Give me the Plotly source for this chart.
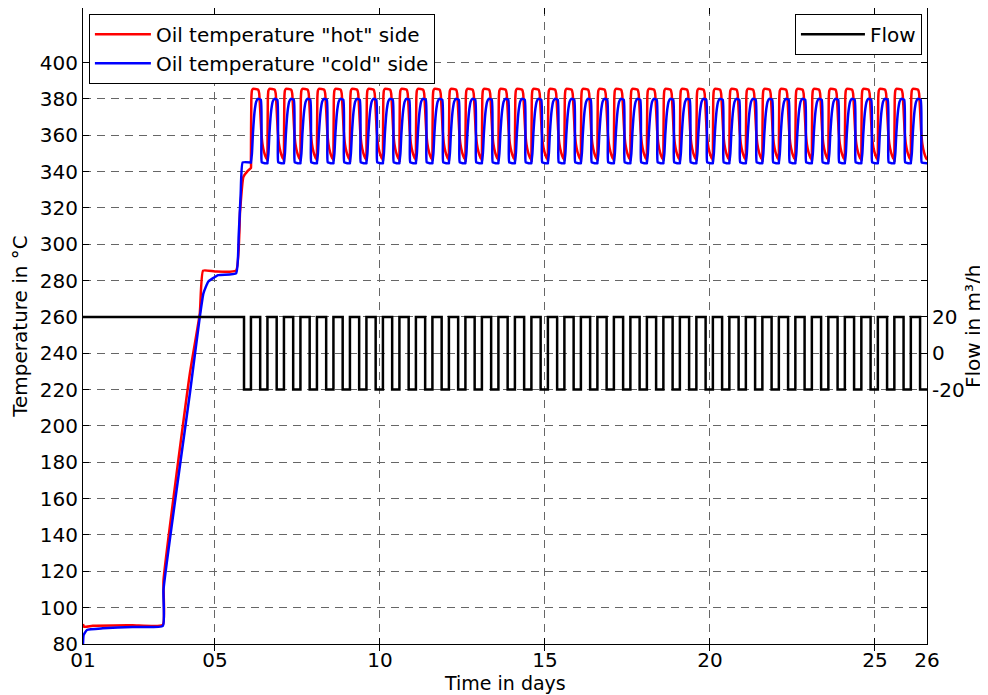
import plotly.graph_objects as go

# ---------------- axis ticks ----------------
x_tickvals = [1, 5, 10, 15, 20, 25, 26.58]
x_ticktext = ["01", "05", "10", "15", "20", "25", "26"]
temp_tickvals = [80, 100, 120, 140, 160, 180, 200, 220, 240, 260, 280, 300,
                 320, 340, 360, 380, 400]
flow_tickvals = [-20, 0, 20]
flow_ticktext = ["-20", "0", "20"]

# ---------------- heating-up phase ----------------
hot_start_days = [1.0, 1.03, 1.3, 2.5, 3.42, 3.44, 4.24, 4.54, 4.64, 5.0,
                  5.64, 5.76, 5.86, 6.0, 6.09]
hot_start_vals = [91.0, 89.5, 90.0, 90.3, 90.5, 115.0, 229.0, 262.0, 285.5,
                  285.0, 285.5, 318.0, 337.0, 340.5, 342.0]

cold_start_days = [1.0, 1.02, 1.12, 1.6, 2.5, 3.42, 3.44, 4.24, 4.54, 4.65,
                   4.8, 5.1, 5.64, 5.72, 5.78, 5.84, 6.09]
cold_start_vals = [80.0, 85.0, 87.7, 88.6, 89.4, 90.0, 110.0, 218.0, 260.0,
                   273.0, 279.5, 283.0, 284.0, 305.0, 328.0, 345.0, 345.0]

flow_start_days = [1.0, 5.88]
flow_start_vals = [20, -20]

# ---------------- cyclic operation (one 12 h cycle) ----
cycle_starts = [6.09, 6.59, 7.09, 7.59, 8.09, 8.59, 9.09, 9.59, 10.09, 10.59,
                11.09, 11.59, 12.09, 12.59, 13.09, 13.59, 14.09, 14.59, 15.09,
                15.59, 16.09, 16.59, 17.09, 17.59, 18.09, 18.59, 19.09, 19.59,
                20.09, 20.59, 21.09, 21.59, 22.09, 22.59, 23.09, 23.59, 24.09,
                24.59, 25.09, 25.59, 26.09]

hot_cycle_phase = [0.0, 0.012, 0.03, 0.06, 0.22, 0.25, 0.28, 0.31, 0.35,
                   0.40, 0.46, 0.499]
hot_cycle_vals = [346.0, 380.0, 384.5, 385.5, 385.0, 383.0, 374.0, 363.0,
                  355.0, 350.5, 347.5, 346.5]

cold_cycle_phase = [0.0, 0.03, 0.06, 0.09, 0.12, 0.16, 0.21, 0.30, 0.315,
                    0.33, 0.499]
cold_cycle_vals = [345.0, 350.0, 361.0, 369.0, 374.5, 378.5, 380.0, 379.5,
                   350.0, 345.0, 344.5]

flow_cycle_phase = [0.0, 0.28, 0.49]
flow_cycle_vals = [20, -20, -20]


def build(start_days, start_vals, phases, vals):
    xs = list(start_days)
    ys = list(start_vals)
    for s in cycle_starts:
        for p, v in zip(phases, vals):
            xs.append(round(s + p, 4))
            ys.append(v)
    return xs, ys


hot_x, hot_y = build(hot_start_days, hot_start_vals, hot_cycle_phase, hot_cycle_vals)
cold_x, cold_y = build(cold_start_days, cold_start_vals, cold_cycle_phase, cold_cycle_vals)
flow_x, flow_y = build(flow_start_days, flow_start_vals, flow_cycle_phase, flow_cycle_vals)

fig = go.Figure()
fig.add_trace(go.Scatter(x=hot_x, y=hot_y, mode="lines",
                         name='Oil temperature "hot" side',
                         line=dict(color="#ff0000", width=2.5, shape="spline",
                                   smoothing=0.4),
                         legend="legend"))
fig.add_trace(go.Scatter(x=cold_x, y=cold_y, mode="lines",
                         name='Oil temperature "cold" side',
                         line=dict(color="#0000ff", width=2.5, shape="spline",
                                   smoothing=0.4),
                         legend="legend"))
fig.add_trace(go.Scatter(x=flow_x, y=flow_y, mode="lines", name="Flow",
                         line=dict(color="black", width=2.5, shape="hv"),
                         yaxis="y2", legend="legend2"))

grid = dict(showgrid=True, gridcolor="#666666", gridwidth=1, griddash="8px,6px")
common = dict(ticks="inside", ticklen=6, tickcolor="black", showline=True,
              linecolor="black", linewidth=1, zeroline=False, automargin=False,
              tickfont=dict(size=20, color="black"))
title_font = dict(size=20, color="black", family="DejaVu Sans")
x_title_font = dict(size=19, color="black", family="DejaVu Sans")

fig.update_layout(
    width=980, height=687,
    margin=dict(l=75, r=61, t=0, b=51),
    paper_bgcolor="white", plot_bgcolor="white",
    font=dict(family="DejaVu Sans", size=20, color="black"),
    showlegend=True,
    legend=dict(x=0.007, y=0.991, xanchor="left", yanchor="top",
                bordercolor="black", borderwidth=1, bgcolor="white",
                font=dict(size=20), tracegroupgap=0, itemwidth=56),
    legend2=dict(x=0.994, y=0.991, xanchor="right", yanchor="top",
                 bordercolor="black", borderwidth=1, bgcolor="white",
                 font=dict(size=20), itemwidth=64),
    xaxis=dict(range=[1, 26.58], tickvals=x_tickvals, ticktext=x_ticktext,
               mirror="allticks", ticklabelstandoff=-2,
               **grid, **common),
    yaxis=dict(range=[80, 430], tickvals=temp_tickvals, mirror="allticks",
               title=dict(text="Temperature in °C", standoff=10, font=title_font),
               **grid, **common),
    yaxis2=dict(range=[-160, 190], tickvals=flow_tickvals, ticktext=flow_ticktext,
                overlaying="y", side="right", showgrid=False,
                ticklabelstandoff=0, **common),
    annotations=[
        dict(text="Time in days", xref="paper", yref="paper", x=0.5, y=0,
             xanchor="center", yanchor="middle", yshift=-39, showarrow=False,
             font=x_title_font),
        dict(text="Flow in m³/h", xref="paper", yref="paper", x=1, y=0.5,
             xanchor="center", yanchor="middle", xshift=46, textangle=-90,
             showarrow=False, font=title_font),
    ],
)

fig.write_html("out.html")
